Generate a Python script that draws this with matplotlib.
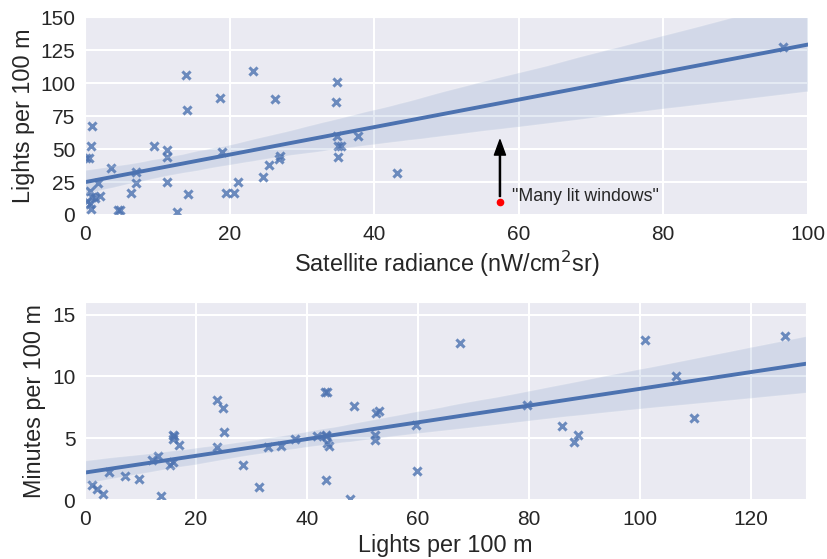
import numpy as np
import matplotlib
matplotlib.use("Agg")
import matplotlib.pyplot as plt
import seaborn as sns

# top panel: satellite radiance vs lights per 100 m
radiance = [14.0, 23.3, 18.7, 26.3, 14.1, 0.9, 0.8, 9.5, 11.4, 11.4,
            0.1, 0.6, 19.0, 27.0, 26.8, 25.4, 24.6, 21.2, 19.5, 20.6,
            14.3, 12.7, 11.4, 7.05, 7.05, 3.6, 6.3, 1.8, 4.6, 4.8,
            0.7, 0.9, 2.1, 1.4, 0.3, 0.7, 0.8,
            34.8, 34.7, 34.9, 37.7, 35.0, 35.4, 35.0, 43.1, 96.5]
lights = [106, 109.5, 88.5, 88, 79.4, 67.6, 52.4, 52.4, 49, 43.8,
          43.5, 43.5, 47.6, 44.5, 42.6, 38, 28.9, 25, 16.3, 16.3,
          16, 2.4, 25, 24, 32.7, 35.5, 16.3, 23.9, 3.6, 3.6,
          18, 13.8, 14.2, 13, 10.5, 8, 4.7,
          100.6, 86, 59.7, 59.5, 52.6, 52.6, 44, 31.7, 127]

# the odd one out, "Many lit windows"
outlier_x = 57.4
outlier_y = 9.7

# bottom panel: lights per 100 m vs minutes per 100 m
lights_b = [1.2, 2.1, 3.2, 4.4, 7.2, 9.8, 13.7, 12.0, 13.2, 15.4,
            15.9, 15.9, 16.1, 15.8, 17.0, 23.7, 24.9, 25.0, 23.8, 28.5,
            31.4, 32.9, 35.3, 37.8, 41.9, 43.5, 43.2, 43.7, 43.4, 43.4,
            43.7, 44.0, 47.7, 48.4, 52.4, 52.9, 52.3, 52.3, 59.6, 59.8,
            67.6, 79.6, 85.9, 88.1, 88.8, 100.9, 106.5, 109.8, 126.1]
minutes = [1.25, 0.93, 0.5, 2.3, 1.97, 1.68, 0.34, 3.27, 3.6, 2.86,
           3.05, 5.28, 5.15, 4.96, 4.45, 8.1, 7.43, 5.5, 4.29, 2.8,
           1.09, 4.26, 4.4, 4.96, 5.15, 5.2, 8.72, 8.72, 1.65, 5.28,
           4.6, 4.34, 0.1, 7.6, 7.03, 7.2, 5.23, 4.83, 6.09, 2.32,
           12.73, 7.65, 5.95, 4.72, 5.26, 12.94, 10.04, 6.63, 13.29]

sns.set_style("darkgrid")
plt.rcParams['font.family'] = ['Liberation Sans', 'DejaVu Sans']
plt.rcParams['text.color'] = '.15'
plt.rcParams['axes.labelcolor'] = '.15'
plt.rcParams['xtick.color'] = '.15'
plt.rcParams['ytick.color'] = '.15'
plt.rcParams['grid.linewidth'] = 1.5

blue = '#4C72B0'
fig = plt.figure(figsize=(8.28, 5.59), dpi=100)
ax1 = fig.add_axes([0.1027, 0.6154, 0.873, 0.354])
ax2 = fig.add_axes([0.1027, 0.1055, 0.871, 0.354])

sns.regplot(x=np.array(radiance), y=np.array(lights), ax=ax1, marker='x', color=blue,
            truncate=False, seed=1, scatter_kws={'s': 34, 'linewidths': 2.2},
            line_kws={'linewidth': 2.8})
ax1.plot(outlier_x, outlier_y, 'o', color='red', markersize=4.5)
ax1.annotate('', xy=(outlier_x, 57), xytext=(outlier_x, 14),
             arrowprops=dict(facecolor='black', edgecolor='black', width=0.8,
                             headwidth=8, headlength=11))
ax1.text(outlier_x + 1.7, 14, '"Many lit windows"', fontsize=12.8, va='center')
ax1.set_xlim(0, 100)
ax1.set_ylim(0, 150)
ax1.set_xticks(range(0, 101, 20))
ax1.set_yticks(range(0, 151, 25))
ax1.set_xlabel('Satellite radiance (nW/cm$^2$sr)', fontsize=16.8)
ax1.set_ylabel('Lights per 100 m', fontsize=16.8)
ax1.tick_params(labelsize=15)

sns.regplot(x=np.array(lights_b), y=np.array(minutes), ax=ax2, marker='x', color=blue,
            truncate=False, seed=1, scatter_kws={'s': 34, 'linewidths': 2.2},
            line_kws={'linewidth': 2.8})
ax2.set_xlim(0, 130)
ax2.set_ylim(0, 16)
ax2.set_xticks(range(0, 121, 20))
ax2.set_yticks([0, 5, 10, 15])
ax2.set_xlabel('Lights per 100 m', fontsize=16.8)
ax2.set_ylabel('Minutes per 100 m', fontsize=16.8)
ax2.tick_params(labelsize=15)

fig.savefig('out.png', dpi=100)
